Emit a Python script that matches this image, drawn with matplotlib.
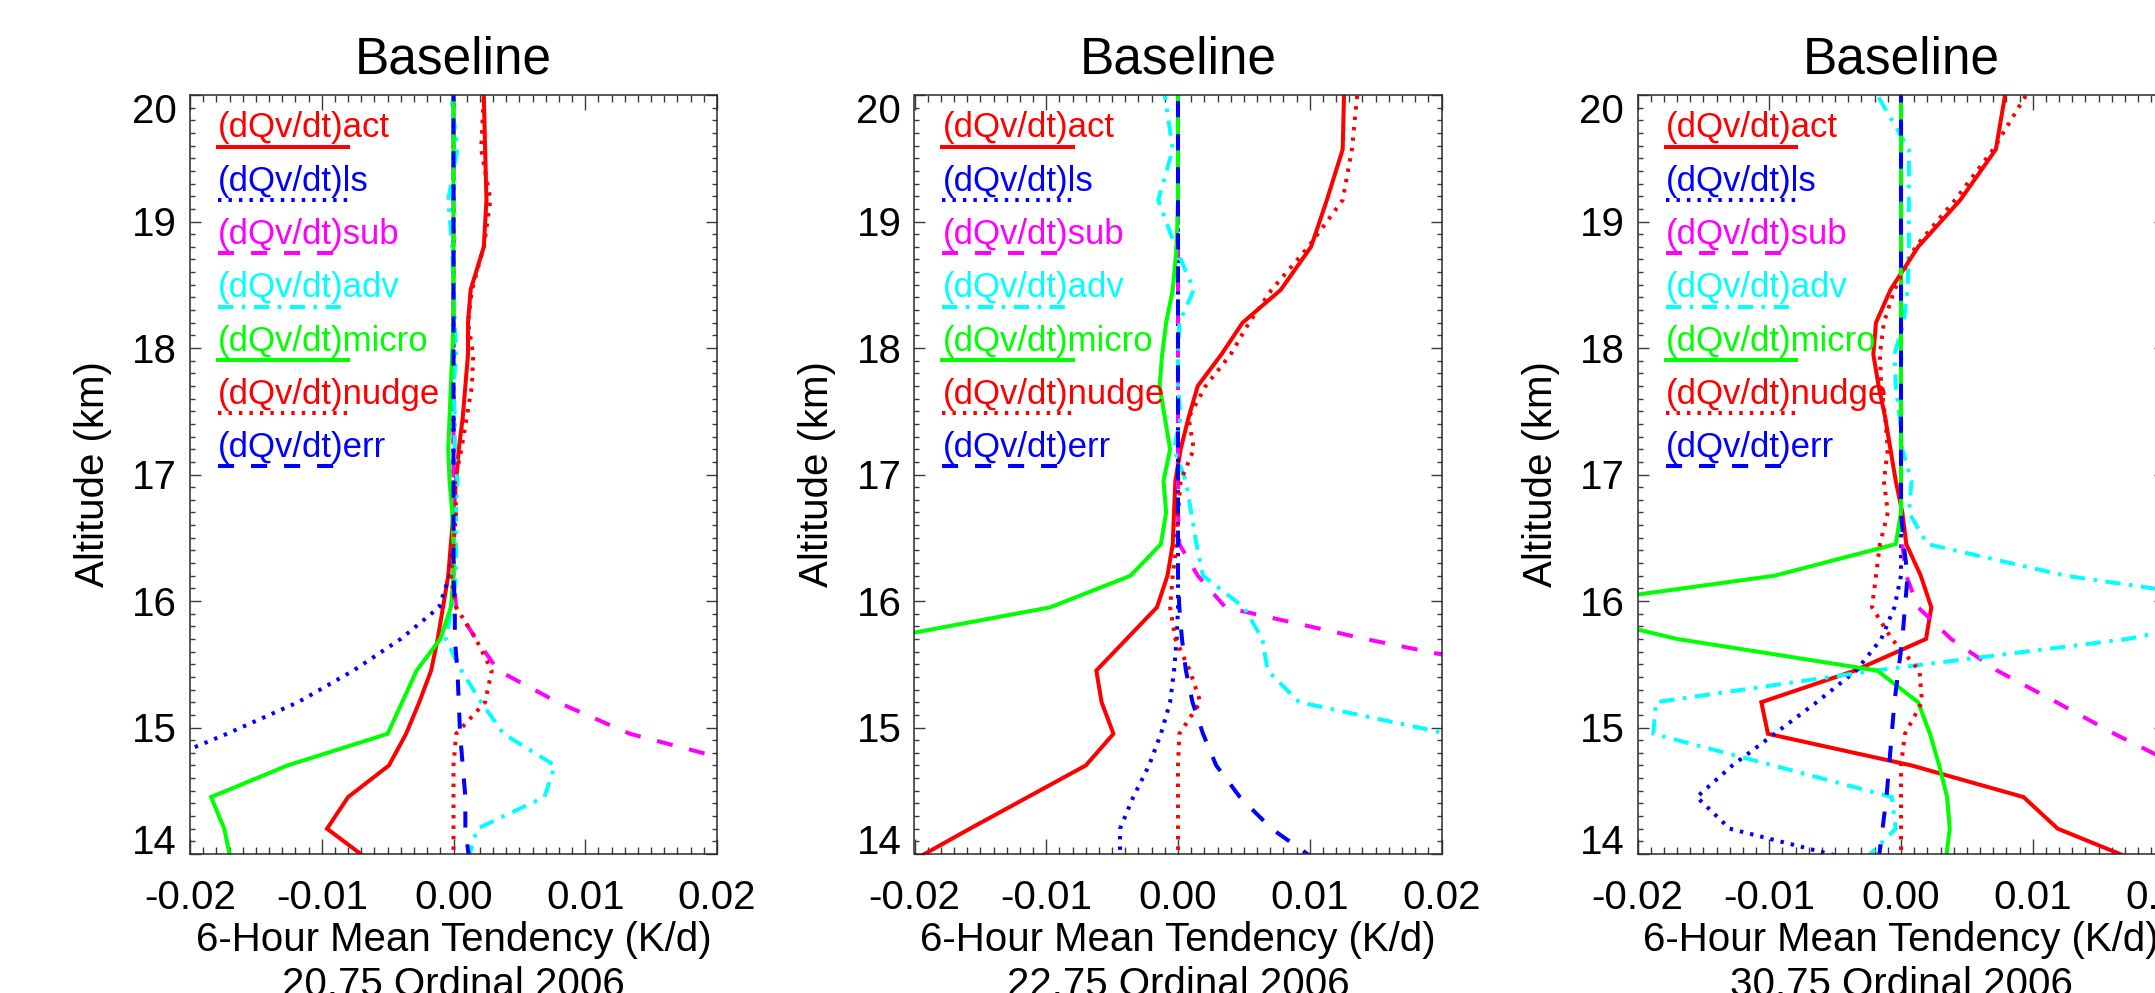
import matplotlib
matplotlib.use("Agg")
import matplotlib.pyplot as plt
from matplotlib.lines import Line2D
from matplotlib.ticker import FixedLocator, MultipleLocator
from matplotlib.transforms import ScaledTranslation

W, H, DPI = 2155, 993, 100
plt.rcParams['font.family'] = ['Liberation Sans', 'DejaVu Sans']

# ---------------- data ----------------
altitude = [13.95, 14.2, 14.45, 14.7, 14.95, 15.2, 15.45, 15.7, 15.95, 16.2, 16.45, 16.7,
            16.95, 17.2, 17.45, 17.7, 17.95, 18.2, 18.46, 18.8, 19.17, 19.57, 20.0]

panel_titles = ["Baseline", "Baseline", "Baseline"]
panel_dates = ["20.75 Ordinal 2006", "22.75 Ordinal 2006", "30.75 Ordinal 2006"]
x_label = "6-Hour Mean Tendency (K/d)"
y_label = "Altitude (km)"
x_ticks = [-0.02, -0.01, 0.0, 0.01, 0.02]
x_tick_labels = ["-0.02", "-0.01", "0.00", "0.01", "0.02"]
y_ticks = [14, 15, 16, 17, 18, 19, 20]
y_tick_labels = ["14", "15", "16", "17", "18", "19", "20"]

series_names = ["(dQv/dt)act", "(dQv/dt)ls", "(dQv/dt)sub", "(dQv/dt)adv",
                "(dQv/dt)micro", "(dQv/dt)nudge", "(dQv/dt)err"]

# Panel 1 (20.75)
p1_act = [-0.0064, -0.0096, -0.0080, -0.0049, -0.0036, -0.0026, -0.0017, -0.0012, -0.0008, -0.0004, -0.0002, 0.0000,
          0.0002, 0.0004, 0.0007, 0.0009, 0.0011, 0.0011, 0.0013, 0.0023, 0.0025, 0.0024, 0.0023]
p1_ls = [-0.030, -0.030, -0.029, -0.023, -0.0172, -0.0118, -0.0076, -0.0040, -0.0011, -0.0003, 0.0, 0.0,
         0.0, 0.0, 0.0, 0.0, 0.0, 0.0, 0.0, 0.0, 0.0, 0.0, 0.0]
p1_sub = [0.040, 0.036, 0.030, 0.0225, 0.0134, 0.0079, 0.0034, 0.0017, 0.0002, 0.0, 0.0, 0.0,
          0.0, 0.0, 0.0, 0.0, 0.0, 0.0, 0.0, 0.0, 0.0, 0.0, 0.0]
p1_adv = [0.0011, 0.0018, 0.0069, 0.0077, 0.0038, 0.0021, 0.0006, -0.0006, -0.0001, 0.0002, 0.0002, 0.0002,
          0.0003, 0.0001, 0.0001, 0.0, 0.0002, 0.0001, 0.0, -0.0001, -0.0004, 0.0003, -0.0002]
p1_micro = [-0.0169, -0.0174, -0.0184, -0.0126, -0.0050, -0.0039, -0.0028, -0.0010, -0.0002, 0.0, 0.0, -0.0001,
            -0.0003, -0.0004, -0.0003, -0.0002, -0.0001, 0.0, 0.0, 0.0, 0.0, 0.0, 0.0]
p1_nudge = [0.0, 0.0, 0.0, 0.0, 0.0002, 0.0024, 0.0029, 0.0017, 0.0002, -0.0002, 0.0, 0.0002,
            0.0001, 0.0006, 0.0010, 0.0014, 0.0015, 0.0011, 0.0014, 0.0023, 0.0028, 0.0021, 0.0023]
p1_err = [0.0012, 0.0009, 0.0009, 0.0007, 0.0005, 0.0004, 0.0003, 0.0001, 0.0001, 0.0, 0.0, 0.0,
          0.0, 0.0, 0.0, 0.0, 0.0, 0.0, 0.0, 0.0, 0.0, 0.0, 0.0]

# Panel 2 (22.75)
p2_act = [-0.0201, -0.0158, -0.0114, -0.0070, -0.0049, -0.0058, -0.0062, -0.0039, -0.0016, -0.0008, -0.0004, -0.0003,
          -0.0002, 0.0002, 0.0008, 0.0015, 0.0033, 0.0049, 0.0078, 0.0101, 0.0113, 0.0125, 0.0126]
p2_ls = [-0.0044, -0.0044, -0.0034, -0.0022, -0.0013, -0.0006, -0.0003, -0.0001, 0.0, 0.0, 0.0, 0.0,
         0.0, 0.0, 0.0, 0.0, 0.0, 0.0, 0.0, 0.0, 0.0, 0.0, 0.0]
p2_sub = [0.060, 0.055, 0.050, 0.046, 0.042, 0.035, 0.026, 0.0142, 0.0036, 0.0015, 0.0001, 0.0,
          0.0, 0.0, 0.0, 0.0, 0.0, 0.0, 0.0, 0.0, 0.0, 0.0, 0.0]
p2_adv = [0.035, 0.032, 0.029, 0.025, 0.0205, 0.0092, 0.0068, 0.0064, 0.0050, 0.0019, 0.0014, 0.0010,
          0.0006, -0.0003, 0.0002, 0.0, 0.0, 0.0001, 0.0012, -0.0002, -0.0015, -0.0004, -0.0010]
p2_micro = [-0.050, -0.050, -0.050, -0.045, -0.040, -0.035, -0.030, -0.0226, -0.0097, -0.0036, -0.0013, -0.0009,
            -0.0011, -0.0006, -0.0010, -0.0014, -0.0012, -0.0009, -0.0004, -0.0001, 0.0, 0.0, 0.0]
p2_nudge = [0.0, 0.0, 0.0, 0.0, 0.0001, 0.0017, 0.0009, -0.0002, -0.0006, -0.0004, -0.0001, 0.0,
            0.0002, 0.0012, 0.0008, 0.0021, 0.0040, 0.0054, 0.0071, 0.0099, 0.0125, 0.0132, 0.0136]
p2_err = [0.0105, 0.0071, 0.0047, 0.0029, 0.0019, 0.0011, 0.0006, 0.0003, 0.0001, 0.0, 0.0, 0.0,
          0.0, 0.0, 0.0, 0.0, 0.0, 0.0, 0.0, 0.0, 0.0, 0.0, 0.0]

# Panel 3 (30.75)
p3_act = [0.0178, 0.0119, 0.0093, 0.0008, -0.0101, -0.0106, -0.0035, 0.0019, 0.0023, 0.0015, 0.0004, 0.0001,
          -0.0004, -0.0008, -0.0012, -0.0017, -0.0021, -0.0019, -0.0008, 0.0013, 0.0045, 0.0072, 0.0079]
p3_ls = [-0.0035, -0.0130, -0.0155, -0.0128, -0.0096, -0.0064, -0.0034, -0.0015, -0.0005, 0.0, 0.0, 0.0,
         0.0, 0.0, 0.0, 0.0, 0.0, 0.0, 0.0, 0.0, 0.0, 0.0, 0.0]
p3_sub = [0.035, 0.031, 0.027, 0.021, 0.0162, 0.0118, 0.0073, 0.0038, 0.0013, 0.0004, 0.0001, 0.0,
          0.0, 0.0, 0.0, 0.0, 0.0, 0.0, 0.0, 0.0, 0.0, 0.0, 0.0]
p3_adv = [-0.0028, -0.0004, -0.0007, -0.0097, -0.0188, -0.0186, -0.0020, 0.0172, 0.0290, 0.0125, 0.0020, 0.0006,
          0.0008, 0.0001, -0.0001, -0.0004, -0.0005, 0.0002, 0.0005, 0.0006, 0.0006, 0.0006, -0.0018]
p3_micro = [0.0034, 0.0037, 0.0035, 0.0029, 0.0022, 0.0013, -0.0018, -0.0170, -0.0270, -0.0096, -0.0004, 0.0,
            0.0, 0.0, 0.0, 0.0, 0.0, 0.0, 0.0, 0.0, 0.0, 0.0, 0.0]
p3_nudge = [0.0, 0.0, 0.0, 0.0, 0.0003, 0.0016, 0.0014, -0.0007, -0.0022, -0.0019, -0.0016, -0.0010,
            -0.0013, -0.0010, -0.0012, -0.0015, -0.0016, -0.0013, -0.0005, 0.0011, 0.0041, 0.0070, 0.0095]
p3_err = [-0.0017, -0.0014, -0.0011, -0.0009, -0.0007, -0.0005, -0.0002, 0.0001, 0.0003, 0.0005, 0.0002, 0.0,
          0.0, 0.0, 0.0, 0.0, 0.0, 0.0, 0.0, 0.0, 0.0, 0.0, 0.0]

panels = [
    [p1_act, p1_ls, p1_sub, p1_adv, p1_micro, p1_nudge, p1_err],
    [p2_act, p2_ls, p2_sub, p2_adv, p2_micro, p2_nudge, p2_err],
    [p3_act, p3_ls, p3_sub, p3_adv, p3_micro, p3_nudge, p3_err],
]

# ---------------- styles ----------------
DOT = (0, (0.85, 1.75))
DASH = (0, (4.0, 4.2))
DASHDOT = (0, (3.8, 2.1, 0.9, 2.1))
series_colors = ["#ff0000", "#0000ff", "#ff00ff", "#00ffff", "#00ff00", "#ff0000", "#0000ff"]
series_styles = ["-", DOT, DASH, DASHDOT, "-", DOT, DASH]
LW = 2.9

fig = plt.figure(figsize=(W / DPI, H / DPI), dpi=DPI)
fig.patch.set_facecolor("white")

ax_left_px = [190, 914.5, 1637.5]
ax_w_px = 527
ax_top_px, ax_bot_px = 95, 854
ax_h_px = ax_bot_px - ax_top_px


def ay(px):  # figure pixel (from top) -> axes fraction
    return (ax_bot_px - px) / ax_h_px


for k in range(3):
    ax = fig.add_axes([ax_left_px[k] / W, (H - ax_bot_px) / H, ax_w_px / W, ax_h_px / H])
    for vals, col, ls in zip(panels[k], series_colors, series_styles):
        ax.plot(vals, altitude, color=col, linestyle=ls, linewidth=LW, solid_joinstyle="miter")
    ax.set_xlim(-0.02, 0.02)
    ax.set_ylim(14, 20)

    ax.xaxis.set_major_locator(FixedLocator(x_ticks))
    ax.set_xticklabels(x_tick_labels)
    ax.xaxis.set_minor_locator(MultipleLocator(0.001))
    ax.yaxis.set_major_locator(FixedLocator(y_ticks))
    ax.set_yticklabels(y_tick_labels)
    ax.yaxis.set_minor_locator(MultipleLocator(0.1))

    ax.tick_params(which="both", direction="in", top=True, right=True,
                   color="#3a3a3a", width=1.0, labelsize=29, labelcolor="black")
    ax.xaxis.set_tick_params(which="major", length=11.0, pad=17.8)
    ax.xaxis.set_tick_params(which="minor", length=5.3)
    ax.yaxis.set_tick_params(which="major", length=7.7, pad=9.5)
    ax.yaxis.set_tick_params(which="minor", length=3.6)
    for s in ax.spines.values():
        s.set_color("#2a2a2a")
        s.set_linewidth(1.1)

    yt = ax.yaxis.get_major_ticks()
    yt[0].label1.set_va("baseline")
    yt[-1].label1.set_va("top")
    yt[-1].label1.set_transform(yt[-1].label1.get_transform()
                                + ScaledTranslation(0, 1.5 / 72, fig.dpi_scale_trans))

    # titles and axis labels
    ax.text(0.5, ay(73.3), panel_titles[k], transform=ax.transAxes, ha="center",
            va="baseline", fontsize=37)
    ax.text(0.5, ay(950.7), x_label, transform=ax.transAxes, ha="center", va="baseline", fontsize=29)
    ax.text(0.5, ay(995.7), panel_dates[k], transform=ax.transAxes, ha="center", va="baseline", fontsize=29)
    ax.text((93 - ax_left_px[0]) / ax_w_px, 0.5, y_label, transform=ax.transAxes, rotation=90,
            ha="center", va="center", fontsize=29)

    # in-plot legend: coloured label with line sample underneath
    x0 = 28 / ax_w_px
    x1 = 158 / ax_w_px
    for i, (name, col, ls) in enumerate(zip(series_names, series_colors, series_styles)):
        ax.text(x0, ay(137.3 + 53.3 * i), name, color=col, transform=ax.transAxes,
                ha="left", va="baseline", fontsize=25)
        ax.add_line(Line2D([x0, x1], [ay(146.7 + 53.3 * i)] * 2, transform=ax.transAxes,
                           color=col, linestyle=ls, linewidth=LW))

fig.savefig("out.png", dpi=DPI, facecolor="white")
